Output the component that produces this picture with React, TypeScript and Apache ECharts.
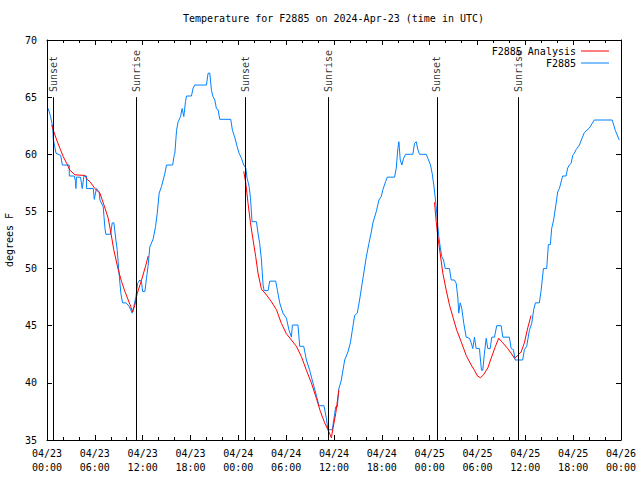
import { useEffect, useRef } from "react";
import * as echarts from "echarts";

const FONT = '"DejaVu Sans Mono", monospace';
const TITLE = "Temperature for F2885 on 2024-Apr-23 (time in UTC)";
const BLUE = "#0080ff";
const RED = "#ff0000";

// hours since 2024-04-23 00:00 UTC
const sunEvents: { label: string; h: number }[] = [
  { label: "Sunset", h: 0.79 },
  { label: "Sunrise", h: 11.2 },
  { label: "Sunset", h: 24.85 },
  { label: "Sunrise", h: 35.25 },
  { label: "Sunset", h: 48.9 },
  { label: "Sunrise", h: 59.17 },
];

const observed: [number, number][] = [
  [0.16, 64.0], [0.45, 63.3], [0.71, 62.4], [0.79, 61.3], [1.13, 60.1], [1.72, 59.9],
  [1.92, 59.06], [2.78, 59.06], [2.8, 58.1], [3.42, 58.1], [3.59, 57.6], [3.62, 57.0],
  [3.7, 58.0], [4.2, 58.0], [4.42, 57.0], [4.63, 58.1], [4.95, 58.1], [4.97, 57.0],
  [5.81, 57.0], [5.93, 56.06], [6.2, 57.0], [6.55, 56.7], [6.64, 56.0], [7.05, 55.4],
  [7.27, 53.5], [7.39, 53.0], [7.98, 53.0], [8.18, 54.0], [8.39, 54.0], [8.64, 52.5],
  [8.81, 51.6], [9.02, 49.7], [9.27, 47.8], [9.48, 47.0], [9.9, 47.0], [10.31, 46.7],
  [10.49, 46.4], [10.69, 46.1], [10.9, 46.7], [11.15, 47.5], [11.36, 48.7], [11.65, 49.0],
  [11.86, 48.85], [11.99, 48.0], [12.28, 48.0], [12.4, 48.7], [12.69, 50.3], [12.9, 51.9],
  [13.32, 52.6], [13.62, 53.7], [13.82, 54.8], [14.07, 56.6], [14.37, 57.2], [14.78, 58.3],
  [14.99, 59.06], [15.76, 59.06], [15.95, 59.9], [16.04, 60.1], [16.25, 62.1], [16.45, 62.85],
  [16.75, 63.3], [16.95, 64.0], [17.16, 63.3], [17.37, 64.6], [17.5, 65.1], [18.12, 65.1],
  [18.33, 65.8], [18.54, 66.06], [20.0, 66.06], [20.21, 67.1], [20.42, 67.1], [20.63, 65.6],
  [20.83, 65.04], [21.05, 64.75], [21.25, 64.0], [21.46, 63.9], [21.67, 63.06], [23.05, 63.06],
  [23.26, 62.1], [23.55, 61.5], [23.84, 60.7], [24.09, 60.1], [24.39, 59.65], [24.68, 59.06],
  [24.93, 58.8], [25.1, 57.9], [25.35, 57.2], [25.52, 56.2], [25.72, 54.1], [26.27, 54.1],
  [26.47, 53.1], [26.68, 52.2], [26.9, 50.75], [27.1, 48.6], [27.23, 48.07], [27.73, 48.07],
  [27.94, 48.9], [28.69, 48.9], [28.9, 48.1], [29.19, 47.0], [29.6, 46.1], [30.03, 45.65],
  [30.36, 44.6], [30.66, 44.0], [30.78, 45.06], [31.48, 45.06], [31.7, 43.2], [32.2, 43.2],
  [32.54, 42.0], [32.95, 41.1], [33.36, 40.0], [33.79, 38.9], [34.11, 38.0], [34.74, 38.0],
  [35.04, 36.9], [35.24, 35.9], [35.79, 35.9], [36.08, 37.3], [36.21, 37.9], [36.42, 37.9],
  [36.58, 39.4], [36.92, 40.25], [37.34, 42.0], [37.75, 42.7], [38.05, 43.5], [38.3, 44.6],
  [38.59, 45.9], [38.92, 46.1], [39.21, 47.25], [39.63, 49.15], [40.05, 51.0], [40.38, 52.2],
  [40.68, 53.2], [40.88, 54.0], [41.31, 55.0], [41.63, 56.0], [41.93, 56.3], [42.13, 56.9],
  [42.47, 57.6], [42.68, 58.0], [43.6, 58.0], [43.81, 58.8], [44.01, 60.5], [44.14, 61.1],
  [44.31, 59.5], [44.51, 59.06], [44.73, 59.65], [44.98, 60.0], [45.89, 60.0], [46.1, 60.96],
  [46.32, 61.1], [46.52, 60.4], [46.73, 60.0], [47.57, 60.0], [47.77, 59.65], [48.11, 59.06],
  [48.32, 58.3], [48.52, 57.3], [48.73, 56.0], [48.9, 54.8], [49.02, 53.7], [49.15, 52.8],
  [49.32, 51.9], [49.52, 51.04], [49.74, 50.75], [49.95, 50.0], [50.49, 50.0], [50.7, 49.0],
  [51.11, 49.0], [51.33, 48.7], [51.53, 47.5], [51.65, 46.1], [51.83, 47.0], [52.03, 46.5],
  [52.28, 45.2], [52.58, 44.0], [52.99, 43.9], [53.21, 43.5], [53.41, 43.0], [53.62, 44.0],
  [53.83, 43.0], [54.25, 43.0], [54.37, 42.0], [54.5, 41.1], [54.66, 41.1], [54.87, 42.6],
  [55.09, 43.9], [55.29, 43.0], [55.59, 43.0], [55.79, 44.0], [56.13, 44.0], [56.41, 45.0],
  [56.97, 45.0], [57.17, 44.0], [58.0, 44.0], [58.22, 43.0], [58.51, 42.9], [58.72, 42.0],
  [59.67, 42.0], [59.88, 42.9], [60.17, 43.2], [60.51, 44.6], [60.8, 45.2], [61.05, 46.4],
  [61.26, 47.0], [61.76, 47.0], [61.98, 48.1], [62.27, 50.0], [62.68, 50.0], [62.89, 52.1],
  [63.14, 52.1], [63.3, 53.5], [63.55, 54.25], [63.86, 55.7], [64.06, 56.7], [64.27, 57.0],
  [64.61, 57.9], [64.68, 58.1], [65.11, 58.1], [65.31, 58.8], [65.52, 59.06], [65.74, 59.2],
  [65.94, 59.9], [66.15, 60.1], [66.36, 60.4], [66.77, 60.8], [67.4, 61.9], [68.03, 62.3],
  [68.65, 63.0], [70.9, 63.0], [71.28, 62.1], [71.78, 61.25],
];

const analysis1: [number, number][] = [
  [0.59, 62.56], [0.79, 62.1], [1.22, 61.25], [1.63, 60.5], [2.04, 59.8], [2.47, 59.2],
  [2.88, 58.6], [3.51, 58.2], [4.76, 58.15], [5.05, 57.8], [5.39, 57.6], [6.01, 57.0],
  [6.64, 56.6], [7.27, 55.3], [7.68, 54.4], [8.02, 53.1], [8.39, 51.6], [8.93, 49.9],
  [9.36, 48.85], [9.77, 48.0], [10.19, 47.25], [10.49, 46.7], [10.74, 46.2], [11.02, 46.8],
  [11.31, 47.8], [11.86, 49.0], [12.4, 50.3], [12.69, 51.1],
];

const analysis2: [number, number][] = [
  [24.68, 58.5], [24.93, 57.5], [25.22, 55.7], [25.52, 54.0], [25.85, 52.5], [26.18, 51.04],
  [26.47, 49.6], [26.9, 48.2], [27.52, 47.7], [28.15, 47.1], [28.78, 46.4], [29.4, 45.2],
  [30.03, 44.3], [30.66, 43.75], [31.28, 43.2], [31.91, 42.3], [32.54, 41.1], [33.16, 40.0],
  [33.79, 38.65], [34.29, 37.5], [34.83, 36.5], [35.24, 35.9], [35.67, 35.2], [35.87, 36.0],
  [36.21, 37.3], [36.62, 39.4],
];

const analysis3: [number, number][] = [
  [48.61, 55.8], [48.82, 54.1], [49.02, 52.8], [49.32, 51.3], [49.65, 49.6], [50.08, 48.1],
  [50.49, 46.8], [50.9, 45.8], [51.4, 44.6], [51.95, 43.6], [52.58, 42.4], [53.21, 41.56],
  [53.62, 41.1], [54.0, 40.6], [54.37, 40.45], [54.75, 40.7], [55.29, 41.3], [55.71, 42.15],
  [56.25, 43.2], [56.66, 43.9], [57.17, 43.5], [57.79, 43.0], [58.22, 42.6], [58.63, 42.15],
  [59.05, 42.4], [59.47, 42.7], [59.88, 43.5], [60.3, 44.8], [60.72, 45.9],
];

const SUN_LINE_TOP = 65;
const SUN_LABEL_Y = 65.45;

function xLabel(h: number): string {
  const day = 23 + Math.floor(h / 24);
  const hr = h % 24;
  return `04/${day}\n${String(hr).padStart(2, "0")}:00`;
}

export default function App() {
  const ref = useRef<HTMLDivElement>(null);
  useEffect(() => {
    if (!ref.current) return;
    const chart = echarts.init(ref.current, undefined, { renderer: "svg" });
    const txt = { fontFamily: FONT, fontSize: 10, color: "#000" };
    const axisCommonX = {
      type: "value" as const,
      min: 0,
      max: 72,
      interval: 6,
      axisLine: { show: true, onZero: false, lineStyle: { color: "#000", width: 1 } },
      axisTick: { show: true, inside: true, length: 5, lineStyle: { color: "#000" } },
      minorTick: { show: true, splitNumber: 3, length: 3, lineStyle: { color: "#000" } },
      splitLine: { show: false },
    };
    const axisCommonY = {
      type: "value" as const,
      min: 35,
      max: 70,
      interval: 5,
      axisLine: { show: true, onZero: false, lineStyle: { color: "#000", width: 1 } },
      axisTick: { show: true, inside: true, length: 5, lineStyle: { color: "#000" } },
      splitLine: { show: false },
    };
    const lineSeries = (name: string, data: [number, number][], color: string, z: number) => ({
      type: "line" as const,
      name,
      data,
      symbol: "none",
      showSymbol: false,
      z,
      itemStyle: { color },
      lineStyle: { color, width: 1 },
      emphasis: { disabled: true },
    });
    const legendCommon = {
      orient: "vertical" as const,
      align: "right" as const,
      right: 31,
      padding: 0,
      icon: "rect",
      itemWidth: 28,
      itemHeight: 1,
      itemGap: 8,
      textStyle: { ...txt },
    };
    chart.setOption({
      animation: false,
      backgroundColor: "#fff",
      title: {
        text: TITLE,
        left: 183,
        top: 13,
        padding: 0,
        textStyle: { ...txt, fontWeight: "normal" },
      },
      legend: [
        { ...legendCommon, data: ["F2885 Analysis"], top: 46 },
        { ...legendCommon, data: ["F2885"], top: 58 },
      ],
      grid: { left: 47, right: 19, top: 40, bottom: 40, outerBoundsMode: "none", containLabel: false },
      xAxis: [
        {
          ...axisCommonX,
          position: "bottom",
          axisLabel: { ...txt, lineHeight: 14, margin: 6, formatter: (v: number) => xLabel(v) },
        },
        { ...axisCommonX, position: "top", axisLabel: { show: false } },
      ],
      yAxis: [
        {
          ...axisCommonY,
          position: "left",
          axisLabel: { ...txt, margin: 10 },
          name: "degrees F",
          nameLocation: "middle",
          nameGap: 31,
          nameRotate: 90,
          nameTextStyle: { ...txt },
        },
        { ...axisCommonY, position: "right", axisLabel: { show: false } },
      ],
      series: [
        {
          type: "scatter",
          name: "sun",
          symbolSize: 0,
          z: 1,
          silent: true,
          data: sunEvents.map((s) => ({ value: [s.h, SUN_LABEL_Y], name: s.label })),
          label: {
            show: true,
            position: "inside",
            formatter: (p: any) => p.name,
            rotate: 90,
            align: "left",
            verticalAlign: "middle",
            textBorderWidth: 0,
            textBorderColor: "transparent",
            ...txt,
          },
          markLine: {
            silent: true,
            symbol: ["none", "none"],
            label: { show: false },
            lineStyle: { color: "#000", width: 1, type: "solid" },
            emphasis: { disabled: true },
            data: sunEvents.map((s) => [
              { coord: [s.h, SUN_LINE_TOP] },
              { coord: [s.h, 35] },
            ]),
          },
        },
        lineSeries("F2885", observed, BLUE, 2),
        lineSeries("F2885 Analysis", analysis1, RED, 3),
        lineSeries("F2885 Analysis", analysis2, RED, 3),
        lineSeries("F2885 Analysis", analysis3, RED, 3),
      ],
    });
    return () => chart.dispose();
  }, []);
  return (
    <div
      ref={ref}
      style={{ position: "fixed", left: 0, top: 0, width: 640, height: 480, background: "#fff" }}
    />
  );
}
